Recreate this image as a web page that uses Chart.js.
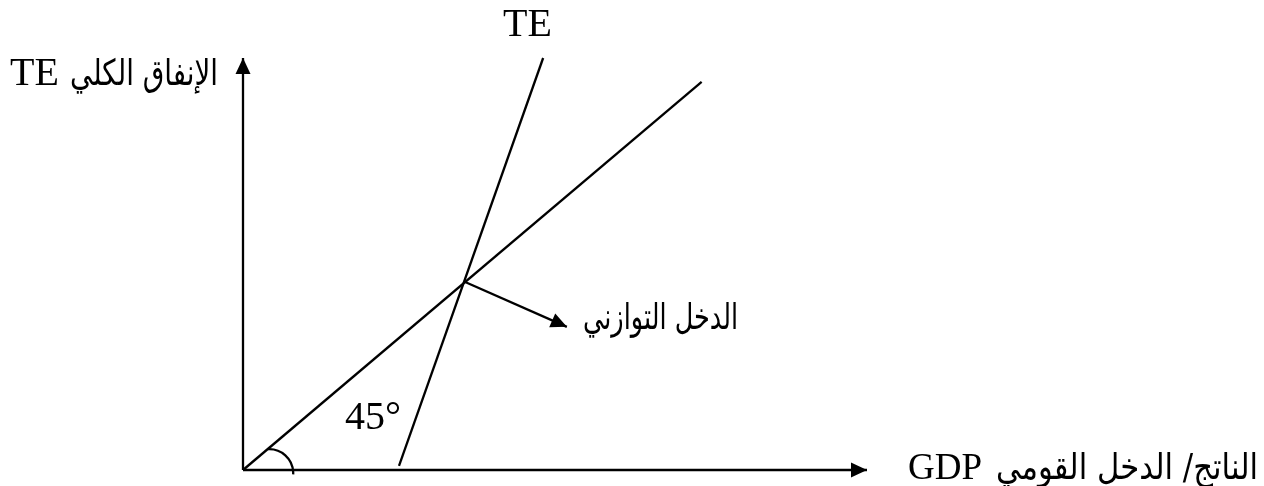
<!DOCTYPE html>
<html>
<head>
<meta charset="utf-8">
<script src="https://cdn.jsdelivr.net/npm/chart.js@4"></script>
<style>
  html, body { margin: 0; padding: 0; background: #fff; overflow: hidden; }
  #wrap { width: 1264px; height: 486px; position: relative; }
</style>
</head>
<body>
<div id="wrap"><canvas id="keynesChart"></canvas></div>
<script>
// axes of the diagram (data units)
const xAxisLine = [{ x: 0, y: 0 }, { x: 100, y: 0 }];
const yAxisLine = [{ x: 0, y: 0 }, { x: 0, y: 78 }];
// 45 degree line (Y = TE) and the total expenditure line
const line45 = [{ x: 0, y: 0 }, { x: 73.5, y: 73.5 }];
const teLine = [{ x: 25, y: 0.8 }, { x: 48.1, y: 78 }];
// pointer from the equilibrium point to its label
const pointerLine = [{ x: 35.6, y: 35.6 }, { x: 51.9, y: 27.1 }];
// angle marker near origin
const angleMark = { x: 4.2, y: -0.6 };

const labelTE = 'TE';
const yLabelLatin = 'TE';
const yLabelArabic = 'الإنفاق الكلي';
const xLabelLatin = 'GDP';
const xLabelArabic = 'الناتج/ الدخل القومي';
const eqLabel = 'الدخل التوازني';
const angleLabel = '45°';

const serif = '"Liberation Serif", "Times New Roman", serif';
const sans = '"DejaVu Sans", sans-serif';

// right-aligned arabic text squeezed into the width it takes in the original
function arabicText(ctx, text, right, base, width) {
  ctx.save();
  ctx.font = '36px ' + sans;
  ctx.direction = 'rtl';
  ctx.textAlign = 'right';
  const w = ctx.measureText(text).width;
  ctx.translate(right, base);
  ctx.scale(Math.min(1, width / w), 1);
  ctx.fillText(text, 0, 0);
  ctx.restore();
}

// draws arrow heads and all the text
const diagramPlugin = {
  id: 'diagram',
  afterDatasetsDraw(chart) {
    const ctx = chart.ctx;
    const xs = chart.scales.x, ys = chart.scales.y;
    ctx.save();
    ctx.fillStyle = '#000';
    ctx.strokeStyle = '#000';

    chart.data.datasets.forEach((ds, i) => {
      if (!ds.arrow) return;
      const pts = chart.getDatasetMeta(i).data;
      const a = pts[pts.length - 2], b = pts[pts.length - 1];
      const ang = Math.atan2(b.y - a.y, b.x - a.x);
      const len = 16, half = 7.5;
      ctx.save();
      ctx.translate(b.x, b.y);
      ctx.rotate(ang);
      ctx.beginPath();
      ctx.moveTo(0, 0);
      ctx.lineTo(-len, -half);
      ctx.lineTo(-len, half);
      ctx.closePath();
      ctx.fill();
      ctx.restore();
    });

    // angle arc
    const cx = xs.getPixelForValue(angleMark.x), cy = ys.getPixelForValue(angleMark.y);
    ctx.lineWidth = 2.3;
    ctx.beginPath();
    ctx.arc(cx, cy, 24, -Math.PI / 2 - 0.05, 0.05);
    ctx.stroke();

    ctx.textBaseline = 'alphabetic';
    ctx.textAlign = 'left';
    ctx.font = '40px ' + serif;
    ctx.fillText(labelTE, 503, 36);
    ctx.fillText(yLabelLatin, 10, 85);
    ctx.fillText(angleLabel, 345, 429);
    ctx.font = '37px ' + serif;
    ctx.fillText(xLabelLatin, 908, 479);

    arabicText(ctx, yLabelArabic, 218, 85, 148);
    arabicText(ctx, xLabelArabic, 1258, 479, 262);
    arabicText(ctx, eqLabel, 738, 329, 155);
    ctx.restore();
  }
};

function seg(data, arrow) {
  return {
    data: data,
    showLine: true,
    borderColor: '#000',
    borderWidth: 2.3,
    pointRadius: 0,
    clip: false,
    arrow: arrow
  };
}

new Chart(document.getElementById('keynesChart').getContext('2d'), {
  type: 'scatter',
  data: {
    datasets: [
      seg(xAxisLine, true),
      seg(yAxisLine, true),
      seg(line45, false),
      seg(teLine, false),
      seg(pointerLine, true)
    ]
  },
  options: {
    responsive: true,
    maintainAspectRatio: false,
    animation: false,
    layout: { padding: { left: 243, right: 397, top: 58, bottom: 16 } },
    plugins: { legend: { display: false }, tooltip: { enabled: false } },
    scales: {
      x: { type: 'linear', min: 0, max: 100, display: false },
      y: { type: 'linear', min: 0, max: 78, display: false }
    }
  },
  plugins: [diagramPlugin]
});
</script>
</body>
</html>
